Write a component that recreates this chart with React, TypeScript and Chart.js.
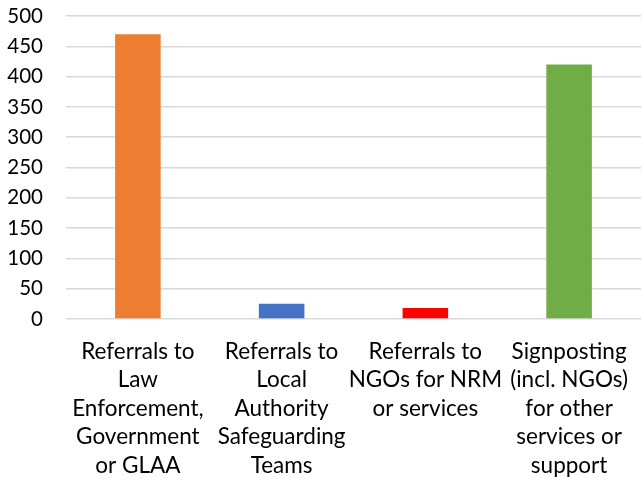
import React, { useEffect, useRef } from "react";
import { Chart, registerables } from "chart.js";

Chart.register(...registerables);

const categories: string[][] = [
  ["Referrals to", "Law", "Enforcement,", "Government", "or GLAA"],
  ["Referrals to", "Local", "Authority", "Safeguarding", "Teams"],
  ["Referrals to", "NGOs for NRM", "or services"],
  ["Signposting", "(incl. NGOs)", "for other", "services or", "support"],
];
const values: number[] = [470, 25, 18, 420];
const barColors: string[] = ["#ED7D31", "#4472C4", "#FF0000", "#70AD47"];
const yMin = 0;
const yMax = 500;
const yStep = 50;

export default function App() {
  const ref = useRef<HTMLCanvasElement | null>(null);
  useEffect(() => {
    if (!ref.current) return;
    const family = "Lato, 'Open Sans', sans-serif";
    const chart = new Chart(ref.current, {
      type: "bar",
      data: {
        labels: categories as any,
        datasets: [
          {
            data: values,
            backgroundColor: barColors,
            borderWidth: 0,
            barPercentage: 0.317,
            categoryPercentage: 1,
          },
        ],
      },
      options: {
        animation: false,
        responsive: false,
        maintainAspectRatio: false,
        layout: { padding: { top: 16, left: 0, right: 0, bottom: 0 } },
        plugins: { legend: { display: false }, tooltip: { enabled: false } },
        scales: {
          x: {
            grid: { display: false, drawTicks: false },
            border: { display: false },
            ticks: {
              color: "#000000",
              font: { family, size: 22.5, lineHeight: 1.27 },
              padding: 18,
              maxRotation: 0,
              autoSkip: false,
            },
            afterFit: (s: any) => {
              s.height = 482 - 16 - 303;
            },
          },
          y: {
            min: yMin,
            max: yMax,
            grid: { color: "#d9d9d9", lineWidth: 1.5, drawTicks: false },
            border: { display: false },
            ticks: {
              stepSize: yStep,
              color: "#000000",
              font: { family, size: 20.5 },
              padding: 23,
            },
            afterFit: (s: any) => {
              s.width = 66;
              s.paddingTop = 0;
              s.paddingBottom = 0;
            },
          },
        },
      },
    });
    return () => chart.destroy();
  }, []);
  return (
    <div style={{ position: "fixed", left: 0, top: 0, width: 646, height: 482, background: "#fff" }}>
      <canvas ref={ref} width={646} height={482} style={{ display: "block", width: 646, height: 482 }} />
    </div>
  );
}
